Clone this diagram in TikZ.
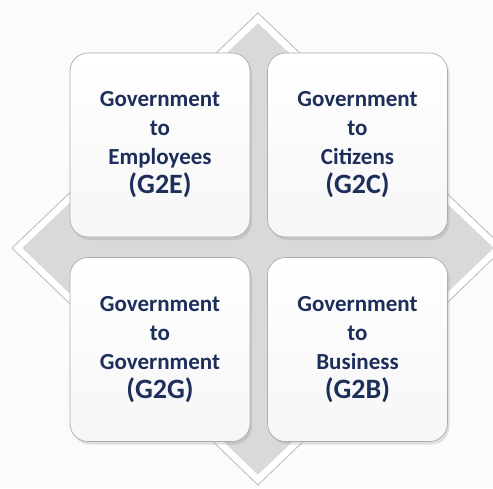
\documentclass[tikz,border=0pt]{standalone}
\usepackage{fontspec}
\setmainfont{Carlito}
\usetikzlibrary{shadows}
\usepackage{xcolor}
\definecolor{govblue}{HTML}{1C2E59}

\newcommand{\gcode}[1]{\fontsize{28}{31}\selectfont #1}
\tikzset{
  govbox/.style={draw=gray!65, line width=.7pt, rounded corners=18pt,
    minimum width=180pt, minimum height=184pt, align=center,
    top color=white, bottom color=gray!7,
    drop shadow={opacity=.22, shadow xshift=2pt, shadow yshift=-3pt},
    text=govblue, font=\bfseries\fontsize{23}{29}\selectfont}
}

\begin{document}
\begin{tikzpicture}[x=1pt, y=-1pt]
\useasboundingbox (0,0) rectangle (493,488);
\fill[gray!3] (0,0) rectangle (493,488);
% diamond behind the boxes
\begin{scope}
\clip (0,0) rectangle (493,488);
\draw[gray!55, fill=white, line width=.8pt] (258,13)--(504,248)--(258,485)--(12,248)--cycle;
\draw[white, fill=gray!30, line width=1.5pt] (258,22)--(495,248)--(258,476)--(21,248)--cycle;
\end{scope}
% four boxes
\foreach \name/\xc/\yc/\txt in {g2e/160/145/{Government\\to\\Employees\\\gcode{(G2E)}},
                               g2c/357.5/145/{Government\\to\\Citizens\\\gcode{(G2C)}},
                               g2g/160/349.5/{Government\\to\\Government\\\gcode{(G2G)}},
                               g2b/357.5/349.5/{Government\\to\\Business\\\gcode{(G2B)}}} {
 \node[govbox] (\name) at (\xc,\yc) {\txt};
}
\end{tikzpicture}
\end{document}
